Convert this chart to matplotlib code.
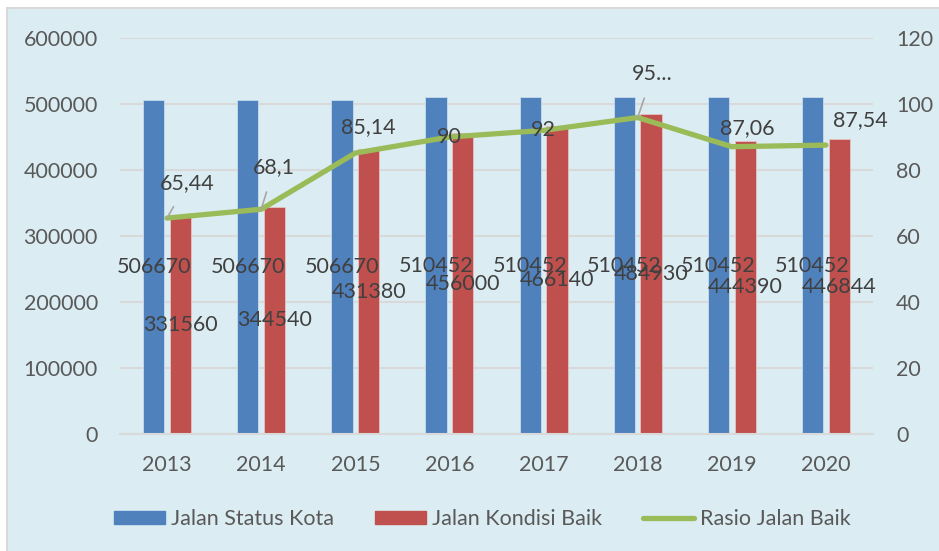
import matplotlib.pyplot as plt
import matplotlib.patches as mpatches
import matplotlib.lines as mlines
import numpy as np

years = ["2013", "2014", "2015", "2016", "2017", "2018", "2019", "2020"]
status_kota = [506670, 506670, 506670, 510452, 510452, 510452, 510452, 510452]
kondisi_baik = [331560, 344540, 431380, 456000, 466140, 484930, 444390, 446844]
rasio = [65.44, 68.1, 85.14, 90, 92, 95.9, 87.06, 87.54]
rasio_labels = ["65,44", "68,1", "85,14", "90", "92", "95...", "87,06", "87,54"]

BLUE = "#4F81BD"
RED = "#C0504D"
GREEN = "#9BBB59"
BG = "#DBEDF3"
TXT = "#595959"
LBL = "#404040"

plt.rcParams['font.family'] = ['Lato', 'DejaVu Sans']
FS = 15.5

fig = plt.figure(figsize=(9.39, 5.51), dpi=100)
fig.patch.set_facecolor("white")
# chart area background with thin border
fig.patches.append(mpatches.Rectangle((7 / 939, -0.01), 1.0, (551 - 8) / 551 + 0.01,
                                      transform=fig.transFigure, facecolor=BG,
                                      edgecolor="#D9D9D9", linewidth=1.5, zorder=-5))

ax = fig.add_axes([120 / 939, (551 - 434) / 551, 753 / 939, 396 / 551])
ax.set_facecolor("none")
x = np.arange(len(years))
w = 0.225
off = 0.142
b1 = ax.bar(x - off, status_kota, w, color=BLUE, edgecolor="#C9DCEB", linewidth=0.6, zorder=2)
b2 = ax.bar(x + off, kondisi_baik, w, color=RED, edgecolor="#E6C3C2", linewidth=0.6, zorder=2)

ax.set_xlim(-0.5, len(years) - 0.5)
ax.set_ylim(0, 600000)
ax.set_yticks(range(0, 600001, 100000))
ax.yaxis.grid(True, color="#D9D9D9", linewidth=1.5, zorder=0)
ax.set_axisbelow(True)
for s in ["top", "right", "left"]:
    ax.spines[s].set_visible(False)
ax.spines["bottom"].set_color("#D9D9D9")
ax.spines["bottom"].set_linewidth(1.5)
ax.set_xticks(x)
ax.set_xticklabels(years)
ax.tick_params(axis="both", length=0, colors=TXT, labelsize=FS)
ax.tick_params(axis="x", pad=15)
ax.tick_params(axis="y", pad=16)

for rect, v in zip(b1, status_kota):
    ax.text(rect.get_x() + rect.get_width() / 2, v / 2, str(v), ha="center", va="center",
            fontsize=FS, color=LBL, zorder=5)
for rect, v in zip(b2, kondisi_baik):
    ax.text(rect.get_x() + rect.get_width() / 2, v / 2, str(v), ha="center", va="center",
            fontsize=FS, color=LBL, zorder=5)

ax2 = ax.twinx()
ax2.set_facecolor("none")
ax2.set_ylim(0, 120)
ax2.set_yticks(range(0, 121, 20))
for s in ax2.spines.values():
    s.set_visible(False)
ax2.tick_params(axis="y", length=0, colors=TXT, labelsize=FS, pad=16.5)
ax2.plot(x, rasio, color=GREEN, linewidth=3.8, solid_capstyle="round", zorder=4)

offsets = [(20, 35), (13, 42), (13, 26), (0, 0), (0, 0), (15, 44), (15, 19), (34, 25)]
leaders = [True, True, False, False, False, True, False, False]
for i, (v, lab) in enumerate(zip(rasio, rasio_labels)):
    ap = None
    if leaders[i]:
        ap = dict(arrowstyle="-", color="#A6A6A6", linewidth=1.2, shrinkA=9, shrinkB=0)
    ax2.annotate(lab, (x[i], v), xytext=offsets[i], textcoords="offset pixels",
                 ha="center", va="center", fontsize=FS, color=LBL, arrowprops=ap, zorder=6)

handles = [mpatches.Patch(color=BLUE, label="Jalan Status Kota"),
           mpatches.Patch(color=RED, label="Jalan Kondisi Baik"),
           mlines.Line2D([], [], color=GREEN, linewidth=3.8, solid_capstyle="round",
                         label="Rasio Jalan Baik")]
leg = fig.legend(handles=handles, loc="center", bbox_to_anchor=(482 / 939, 1 - 519 / 551),
                 ncol=3, frameon=False, fontsize=FS, handlelength=2.4, handleheight=0.6,
                 handletextpad=0.25, columnspacing=1.9)
for t in leg.get_texts():
    t.set_color(TXT)

fig.savefig("out.png", dpi=100, facecolor=fig.get_facecolor())
